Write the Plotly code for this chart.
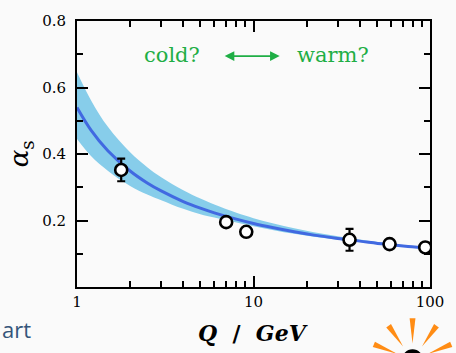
import plotly.graph_objects as go
import math

# ---------------- data ----------------
Q_curve = [1, 1.2, 1.5, 2, 2.5, 3, 4, 5, 6, 8, 10, 13, 17, 22, 30, 40, 55, 75, 100]
alpha_curve = [0.540, 0.472, 0.409, 0.349, 0.313, 0.289, 0.257, 0.237, 0.223, 0.204,
               0.191, 0.178, 0.166, 0.156, 0.146, 0.138, 0.129, 0.122, 0.117]
alpha_upper = [0.646, 0.562, 0.481, 0.405, 0.360, 0.330, 0.291, 0.266, 0.248, 0.223,
               0.207, 0.191, 0.177, 0.165, 0.153, 0.143, 0.133, 0.125, 0.119]
alpha_lower = [0.445, 0.394, 0.349, 0.304, 0.278, 0.261, 0.235, 0.219, 0.209, 0.194,
               0.183, 0.171, 0.160, 0.151, 0.142, 0.135, 0.127, 0.120, 0.115]

Q_meas = [1.78, 7.0, 9.1, 35.0, 59.0, 94.0]
alpha_meas = [0.352, 0.195, 0.166, 0.142, 0.129, 0.119]
alpha_err = [0.034, 0.0, 0.0, 0.033, 0.0, 0.0]

x_ticks = [1, 10, 100]
x_minor = [2, 3, 4, 5, 6, 7, 8, 9, 20, 30, 40, 50, 60, 70, 80, 90]
y_ticks = [0.2, 0.4, 0.6, 0.8]
y_ticklabels = ["0.2", "0.4", "0.6", "0.8"]
y_minor = [0.1, 0.3, 0.5, 0.7]

# ---------------- layout geometry ----------------
W, H = 456, 353
L, R, T, B = 77, 441, 14, 287   # plot area in pixels

def px(xp):
    return (xp - L) / (R - L)

def py(yp):
    return (B - yp) / (B - T)

SERIF = "DejaVu Serif, Liberation Serif, serif"
GREEN = "#1fae45"
BG = "#fafafa"

fig = go.Figure()

# uncertainty band
fig.add_trace(go.Scatter(x=Q_curve, y=alpha_upper, mode="lines", line=dict(width=0, shape="spline"),
                         hoverinfo="skip", showlegend=False))
fig.add_trace(go.Scatter(x=Q_curve, y=alpha_lower, mode="lines", line=dict(width=0, shape="spline"),
                         fill="tonexty", fillcolor="#87cdea", hoverinfo="skip", showlegend=False))
# central curve
fig.add_trace(go.Scatter(x=Q_curve, y=alpha_curve, mode="lines",
                         line=dict(color="#4169e1", width=3, shape="spline"), showlegend=False))
# measurements
fig.add_trace(go.Scatter(x=Q_meas, y=alpha_meas, mode="markers",
                         error_y=dict(type="data", array=alpha_err, visible=True,
                                      color="black", thickness=2.2, width=4),
                         marker=dict(size=12, color="white", line=dict(color="black", width=2.6)),
                         showlegend=False))

axis_common = dict(showline=True, linecolor="black", linewidth=2, mirror="ticks",
                   ticks="inside", tickcolor="black", tickwidth=1.6, ticklen=11,
                   showgrid=False, zeroline=False,
                   tickfont=dict(family=SERIF, size=15, color="black"))

fig.update_xaxes(type="log", range=[0, 2], tickmode="array", tickvals=x_ticks,
                 ticktext=[str(v) for v in x_ticks],
                 minor=dict(tickmode="array", tickvals=x_minor, ticks="inside", ticklen=6,
                            tickcolor="black", tickwidth=1.6, showgrid=False),
                 **axis_common)
fig.update_yaxes(range=[0, 0.8], tickmode="array", tickvals=y_ticks, ticktext=y_ticklabels,
                 minor=dict(tickmode="array", tickvals=y_minor, ticks="inside", ticklen=6,
                            tickcolor="black", tickwidth=1.6, showgrid=False),
                 ticklabelstandoff=6,
                 **axis_common)

annotations = [
    dict(x=px(175), y=py(49), xref="paper", yref="paper", text="cold?", showarrow=False,
         font=dict(family=SERIF, size=21, color=GREEN), xanchor="center", yanchor="middle"),
    dict(x=px(341), y=py(49), xref="paper", yref="paper", text="warm?", showarrow=False,
         font=dict(family=SERIF, size=21, color=GREEN), xanchor="center", yanchor="middle"),
    dict(x=px(286), y=py(50), xref="paper", yref="paper", text=" ", showarrow=True,
         ax=-58, ay=0, axref="pixel", ayref="pixel", arrowside="end+start",
         arrowhead=2, arrowsize=1.2, arrowwidth=1.6, arrowcolor=GREEN),
    dict(x=px(258), y=py(334), xref="paper", yref="paper",
         text="<b><i>Q</i>  /  <i>GeV</i></b>", showarrow=False,
         font=dict(family=SERIF, size=22, color="black"), xanchor="center", yanchor="middle"),
    dict(x=px(19), y=py(150), xref="paper", yref="paper", text="<i>α</i><sub>s</sub>",
         showarrow=False, textangle=-90,
         font=dict(family=SERIF, size=26, color="black"), xanchor="center", yanchor="middle"),
    dict(x=px(-2), y=py(330), xref="paper", yref="paper", text="art", showarrow=False,
         font=dict(family="Open Sans, sans-serif", size=22, color="#34557a"),
         xanchor="left", yanchor="middle"),
]

# decorative sun icon (bottom right)
shapes = []
cx, cy = 423, 362
for ang in [22, 55, 90, 125, 158]:
    a = math.radians(ang)
    r0, r1 = 17, 43
    ux, uy = math.cos(a), -math.sin(a)
    nx, ny = -uy, ux
    p_in = (cx + ux * r0, cy + uy * r0)
    p_o1 = (cx + ux * r1 + nx * 3, cy + uy * r1 + ny * 3)
    p_o2 = (cx + ux * r1 - nx * 3, cy + uy * r1 - ny * 3)
    path = "M {:.4f},{:.4f} L {:.4f},{:.4f} L {:.4f},{:.4f} Z".format(
        px(p_in[0]), py(p_in[1]), px(p_o1[0]), py(p_o1[1]), px(p_o2[0]), py(p_o2[1]))
    shapes.append(dict(type="path", xref="paper", yref="paper", path=path,
                       fillcolor="#ff8c14", line=dict(width=0)))
shapes.append(dict(type="circle", xref="paper", yref="paper",
                   x0=px(cx - 11), x1=px(cx + 11), y0=py(cy + 11), y1=py(cy - 11),
                   fillcolor="black", line=dict(width=0)))

fig.update_layout(width=W, height=H, margin=dict(l=L, r=W - R, t=T, b=H - B),
                  paper_bgcolor=BG, plot_bgcolor=BG, showlegend=False,
                  annotations=annotations, shapes=shapes)

fig.write_html("out.html")
